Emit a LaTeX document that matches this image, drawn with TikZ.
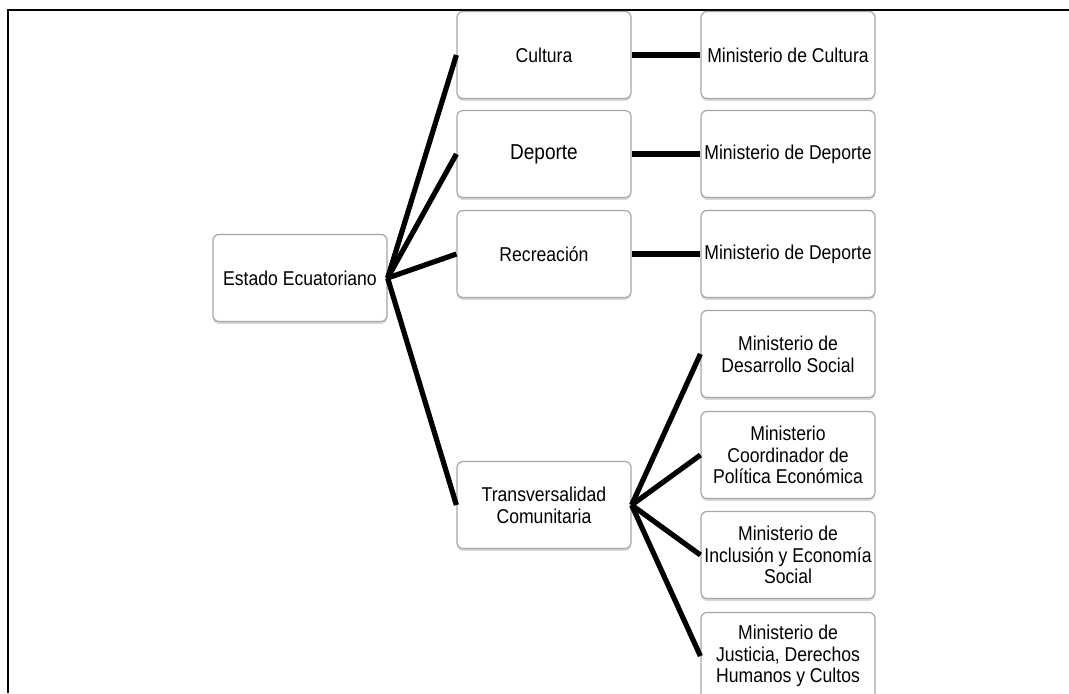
\documentclass[tikz,border=0pt]{standalone}
\usepackage{fontspec}
\setmainfont{Liberation Sans}[FakeStretch=0.88]
\usetikzlibrary{shadows}

\begin{document}
\begin{tikzpicture}[x=0.5pt, y=-0.5pt,
  box/.style={draw=gray!70, line width=0.6pt, rounded corners=3pt, fill=white,
    minimum width=87pt, minimum height=43.5pt, align=center,
    inner sep=1pt, font=\fontsize{10}{10.9}\selectfont,
    drop shadow={shadow xshift=0pt, shadow yshift=-1.2pt, fill=black!35, opacity=0.45}},
  link/.style={line width=2.6pt}]
\def\colA{300} \def\colB{544} \def\colC{788}
\clip (0,0) rectangle (1069,693);

% frame around the chart
\draw[line width=0.8pt] (8,693) -- (8,10) -- (1069,10);

% root
\node[box] (estado) at (\colA,278) {Estado Ecuatoriano};

% first level
\node[box] (cultura) at (\colB,55) {Cultura};
\node[box, font=\fontsize{10.8}{12}\selectfont] (deporte) at (\colB,154) {Deporte};
\node[box] (recreacion) at (\colB,254) {Recreación};
\node[box] (transversal) at (\colB,505) {Transversalidad\\Comunitaria};

% ministries
\node[box] (mincultura) at (\colC,55) {Ministerio de Cultura};
\node[box] (mindeporte) at (\colC,154) {Ministerio de Deporte};
\node[box] (minrecreacion) at (\colC,254) {Ministerio de Deporte};
\node[box] (mindesarrollo) at (\colC,354) {Ministerio de\\Desarrollo Social};
\node[box] (mincoordinador) at (\colC,455) {Ministerio\\Coordinador de\\Política Económica};
\node[box] (mininclusion) at (\colC,555) {Ministerio de\\Inclusión y Economía\\Social};
\node[box] (minjusticia) at (\colC,656) {Ministerio de\\Justicia, Derechos\\Humanos y Cultos};

% connectors
\draw[link] (estado.east) -- (cultura.west);
\draw[link] (estado.east) -- (deporte.west);
\draw[link] (estado.east) -- (recreacion.west);
\draw[link] (estado.east) -- (transversal.west);

\draw[link] (cultura.east) -- (mincultura.west);
\draw[link] (deporte.east) -- (mindeporte.west);
\draw[link] (recreacion.east) -- (minrecreacion.west);

\draw[link] (transversal.east) -- (mindesarrollo.west);
\draw[link] (transversal.east) -- (mincoordinador.west);
\draw[link] (transversal.east) -- (mininclusion.west);
\draw[link] (transversal.east) -- (minjusticia.west);
\end{tikzpicture}
\end{document}
